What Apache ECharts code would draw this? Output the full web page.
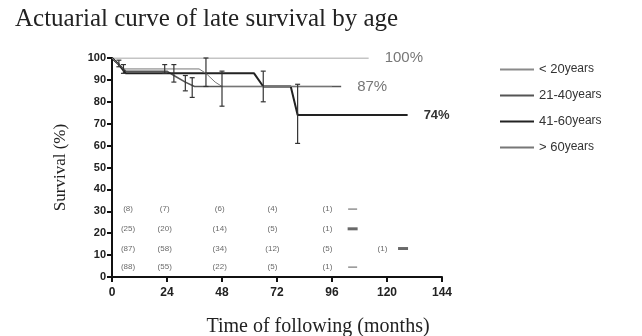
<!DOCTYPE html>
<html>
<head>
<meta charset="utf-8">
<script src="https://cdn.jsdelivr.net/npm/echarts@6/dist/echarts.min.js"></script>
<style>html,body{margin:0;padding:0;background:#fff}#c{width:642px;height:336px}</style>
</head>
<body>
<div id="c"></div>
<script>
// ---- data ----
const groupNames = ['< 20 years', '21-40 years', '41-60 years', '> 60 years'];
const curveUnder20 = [[0,100],[112,100]];
const curve21to40 = [[0,100],[3,97],[6,94],[24,94],[27,92],[32,89],[36,87],[100,87]];
const curve41to60 = [[0,100],[3,97],[6,93],[62,93],[66,87],[78,87],[81,74],[129,74]];
const curveOver60 = [[0,100],[2,98],[5,95],[38,95],[41,93],[45,89],[48,87],[96,87]];
const endLabels = ['100%', '87%', '74%', ''];
const errorBars = [[3,96,99],[5,93,97],[23,93,97],[27,89,97],[32,85,92],[35,82,91],[41,87,100],[48,78,94],[66,80,94],[81,61,88]];
const xTicks = [0,24,48,72,96,120,144];
const riskMonths = [7,23,47,70,94,118];
const riskRowY = [31,22,13,4.5];
const riskRows = [
  ['8','7','6','4','1',null],
  ['25','20','14','5','1',null],
  ['87','58','34','12','5','1'],
  ['88','55','22','5','1',null]
];
const thinDashes = [[105,31],[105,4.5]];
const thickDashes = [[105,22],[127,13]];

// ---- build ----
const riskData = [];
riskRows.forEach((row, r) => row.forEach((v, c) => {
  if (v !== null) riskData.push([riskMonths[c], riskRowY[r], '(' + v + ')']);
}));

const curves = [curveUnder20, curve21to40, curve41to60, curveOver60];
const styles = [
  {color:'#8a8a8a', width:1},
  {color:'#555', width:1.5},
  {color:'#222', width:2},
  {color:'#777', width:1}
];
const labelStyles = [
  {color:'#777', fontSize:15, fontWeight:'normal'},
  {color:'#777', fontSize:15, fontWeight:'normal'},
  {color:'#333', fontSize:13, fontWeight:'bold'},
  {color:'#777', fontSize:13, fontWeight:'normal'}
];

const series = curves.map((d, i) => ({
  name: groupNames[i],
  type: 'line',
  data: d,
  symbol: 'none',
  z: 3,
  lineStyle: {color: styles[i].color, width: styles[i].width},
  itemStyle: {color: styles[i].color},
  emphasis: {disabled: true},
  endLabel: {
    show: endLabels[i] !== '',
    formatter: endLabels[i],
    distance: 16,
    fontFamily: 'Liberation Sans, Arial, sans-serif',
    color: labelStyles[i].color,
    fontSize: labelStyles[i].fontSize,
    fontWeight: labelStyles[i].fontWeight
  }
}));

series.push({
  type: 'custom',
  data: errorBars,
  z: 4,
  renderItem: function (params, api) {
    const x = api.value(0), lo = api.value(1), hi = api.value(2);
    const p1 = api.coord([x, hi]), p2 = api.coord([x, lo]);
    const st = {stroke: '#333', lineWidth: 1.2};
    return {type: 'group', children: [
      {type: 'line', shape: {x1: p1[0], y1: p1[1], x2: p2[0], y2: p2[1]}, style: st},
      {type: 'line', shape: {x1: p1[0]-2.5, y1: p1[1], x2: p1[0]+2.5, y2: p1[1]}, style: st},
      {type: 'line', shape: {x1: p2[0]-2.5, y1: p2[1], x2: p2[0]+2.5, y2: p2[1]}, style: st}
    ]};
  }
});

series.push({
  type: 'scatter',
  data: riskData,
  symbolSize: 0,
  silent: true,
  label: {
    show: true, position: 'inside',
    formatter: p => p.data[2],
    fontFamily: 'Liberation Sans, Arial, sans-serif',
    fontSize: 8, color: '#444'
  }
});
series.push({
  type: 'scatter', data: thinDashes, symbol: 'rect', symbolSize: [9, 1.5],
  itemStyle: {color: '#777'}, silent: true
});
series.push({
  type: 'scatter', data: thickDashes, symbol: 'rect', symbolSize: [10, 3],
  itemStyle: {color: '#444'}, silent: true
});

const chart = echarts.init(document.getElementById('c'), null, {renderer: 'canvas'});
chart.setOption({
  animation: false,
  backgroundColor: '#fff',
  title: {
    text: 'Actuarial curve of late survival by age',
    left: 10, top: 2,
    textStyle: {fontFamily: 'Liberation Serif, Times New Roman, serif', fontSize: 25, fontWeight: 'normal', color: '#222'}
  },
  legend: {
    data: groupNames,
    orient: 'vertical',
    left: 494, top: 58,
    itemWidth: 34, itemHeight: 14, itemGap: 13,
    selectedMode: false,
    itemStyle: {opacity: 0, borderWidth: 0},
    formatter: name => '{n|' + name.replace(' years', '') + '}{y|years}',
    textStyle: {
      color: '#333',
      rich: {
        n: {fontFamily: 'Liberation Sans, Arial, sans-serif', fontSize: 13, color: '#333'},
        y: {fontFamily: 'Liberation Sans Narrow, Liberation Sans, sans-serif', fontSize: 12, color: '#333', verticalAlign: 'bottom', padding: [0,0,1,0]}
      }
    }
  },
  grid: {left: 112, right: 200, top: 58, bottom: 59, outerBoundsMode: 'none'},
  xAxis: {
    type: 'value', min: 0, max: 144, interval: 24,
    name: 'Time of following (months)',
    nameLocation: 'middle', nameGap: 40,
    nameTextStyle: {fontFamily: 'Liberation Serif, Times New Roman, serif', fontSize: 20, color: '#222', padding: [0,0,0,82]},
    axisLine: {lineStyle: {color: '#111', width: 2}},
    axisTick: {show: true, length: 5, lineStyle: {color: '#111', width: 2}},
    axisLabel: {margin: 10, fontFamily: 'Liberation Sans, Arial, sans-serif', fontSize: 12, fontWeight: 'bold', color: '#222',
      formatter: v => xTicks.includes(v) ? String(v) : ''},
    splitLine: {show: false}
  },
  yAxis: {
    type: 'value', min: 0, max: 100, interval: 10,
    name: 'Survival (%)',
    nameLocation: 'middle', nameGap: 43,
    nameTextStyle: {fontFamily: 'Liberation Serif, Times New Roman, serif', fontSize: 17, color: '#222'},
    axisLine: {show: true, lineStyle: {color: '#111', width: 2}},
    axisTick: {show: true, length: 5, lineStyle: {color: '#111', width: 2}},
    axisLabel: {margin: 6, fontFamily: 'Liberation Sans, Arial, sans-serif', fontSize: 11, fontWeight: 'bold', color: '#222'},
    splitLine: {show: false}
  },
  series: series
});
</script>
</body>
</html>
